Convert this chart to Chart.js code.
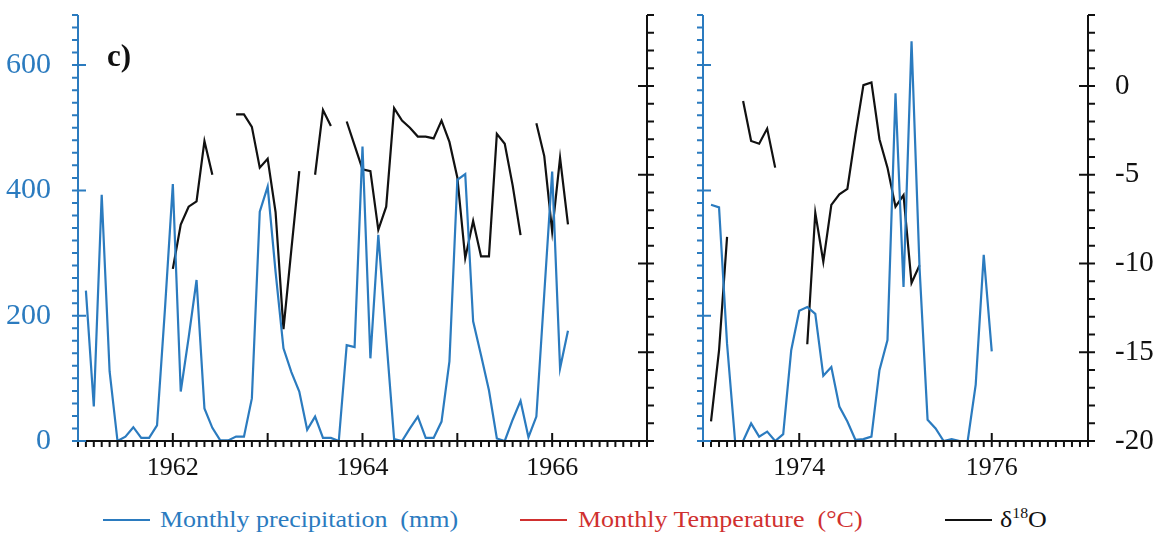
<!DOCTYPE html>
<html>
<head>
<meta charset="utf-8">
<script src="https://cdn.jsdelivr.net/npm/chart.js@4/dist/chart.umd.min.js"></script>
<style>
  html, body { margin: 0; padding: 0; background: #fff; }
  body { width: 1160px; height: 533px; position: relative; overflow: hidden;
         font-family: "Liberation Serif", "Times New Roman", serif; }
  canvas { position: absolute; top: 0; }
  #panelEarly { left: 0; }
  #panelLate { left: 660px; }
  .tag { position: absolute; left: 107px; top: 38px; font: bold 31px "Liberation Serif", serif; color: #111; }
  .key { position: absolute; top: 519px; height: 2px; width: 47px; }
  .txt { position: absolute; top: 506px; font-size: 23px; line-height: 28px; white-space: pre;
         transform: scaleX(1.13); transform-origin: left center; }
  .txt sup { font-size: 14px; vertical-align: 9px; line-height: 0; }
</style>
</head>
<body>
<canvas id="panelEarly" width="700" height="495"></canvas>
<canvas id="panelLate" width="500" height="495"></canvas>
<div class="tag">c)</div>
<div id="legend"></div>
<script>
// Series names and colours
const seriesNames = ['Monthly precipitation  (mm)', 'Monthly Temperature  (°C)', 'δ18O'];
const seriesColors = ['#2b7bbf', '#d0302f', '#111111'];

// Monthly precipitation (mm), Jan 1961 onwards (value n sits at 1961 + n/12)
const precipEarly = [
  240, 55, 393, 111, 0, 7, 22, 5, 5, 25, 210, 410,
  79, 165, 257, 52, 21, 1, 1, 7, 7, 68, 366, 406,
  270, 148, 110, 79, 18, 39, 5, 5, 0, 153, 150, 470,
  132, 329, 165, 3, 0, 20, 39, 5, 5, 31, 127, 417,
  426, 191, 137, 81, 4, 0, 34, 64, 6, 39, 235, 430,
  116, 176
];

// Monthly δ18O (‰), same months; null = no sample
const isoEarly = [
  null, null, null, null, null, null, null, null, null, null, null, -10.3,
  -7.8, -6.8, -6.5, -3.1, -5.0, null, null, -1.6, -1.6, -2.3, -4.6, -4.1,
  -7.1, -13.7, -9.2, -4.8, null, -5.0, -1.35, -2.25, null, -2.0, -3.35, -4.7,
  -4.8, -8.1, -6.8, -1.25, -1.95, -2.35, -2.85, -2.85, -2.95, -1.95, -3.15, -5.15,
  -9.7, -7.6, -9.6, -9.6, -2.7, -3.25, -5.6, -8.4, null, -2.1, -3.95, -8.2,
  -4.05, -7.8
];

// Monthly precipitation (mm), Jan 1973 onwards
const precipLate = [
  377, 373, 155, 0, 0, 28, 7, 15, 0, 11, 145, 208,
  214, 203, 104, 118, 55, 31, 2, 3, 7, 113, 161, 555,
  246, 638, 276, 34, 20, 0, 3, 0, 0, 90, 297, 143
];

// Monthly δ18O (‰), Jan 1973 onwards
const isoLate = [
  -18.9, -14.9, -8.5, null, -0.85, -3.1, -3.25, -2.4, -4.6, null, null, null,
  -14.55, -7.15, -9.9, -6.7, -6.1, -5.8, -2.75, 0.05, 0.2, -3.0, -4.6, -6.8,
  -6.15, -11.1, -10.1
];

// Axis ranges and tick labels
const precipRange = [0, 680];
const isoRange = [-20, 4];
const precipTickStep = 200;
const isoTickStep = 5;
const yearsEarly = [1961, 1967];
const yearsLate = [1973, 1977];
const labelledYears = [1962, 1964, 1966, 1974, 1976];

const serif = '"Liberation Serif", "Times New Roman", serif';

function toPoints(startYear, values) {
  return values.map((v, i) => ({ x: startYear + (i + 1) / 12, y: v }));
}

// Draws axis lines with separate major and minor tick marks
const axisTicks = {
  id: 'axisTicks',
  afterDatasetsDraw(chart, args, opts) {
    const ctx = chart.ctx;
    const a = chart.chartArea;
    ctx.save();
    ctx.lineWidth = 2;
    for (const ax of opts.axes) {
      const s = chart.scales[ax.id];
      ctx.strokeStyle = ax.color;
      ctx.beginPath();
      const horiz = s.isHorizontal();
      const edge = horiz ? a.bottom : (ax.side === 'left' ? a.left : a.right);
      if (horiz) { ctx.moveTo(a.left, edge); ctx.lineTo(a.right, edge); }
      else { ctx.moveTo(edge, a.top); ctx.lineTo(edge, a.bottom); }
      const marks = [[ax.minor, ax.minorSpan], [ax.major, ax.majorSpan]];
      for (const [step, span] of marks) {
        const n = Math.floor((s.max - s.min) / step + 1e-6);
        for (let i = 0; i <= n; i++) {
          const p = s.getPixelForValue(s.min + i * step);
          if (horiz) { ctx.moveTo(p, edge + span[0]); ctx.lineTo(p, edge + span[1]); }
          else { ctx.moveTo(edge + span[0], p); ctx.lineTo(edge + span[1], p); }
        }
      }
      ctx.stroke();
    }
    ctx.restore();
  }
};

// Keep the plot area fixed: no extra room for half-labels at the ends
function fixBox(size) {
  return s => {
    if (s.isHorizontal()) s.height = size; else s.width = size;
    s.paddingTop = 0; s.paddingBottom = 0; s.paddingLeft = 0; s.paddingRight = 0;
  };
}

function makePanel(id, startYear, precip, iso, years, leftW, rightW, leftLabels, rightLabels) {
  return new Chart(document.getElementById(id), {
    type: 'line',
    data: {
      datasets: [
        { label: seriesNames[0], data: toPoints(startYear, precip), yAxisID: 'yP',
          borderColor: seriesColors[0], borderWidth: 2.2, pointRadius: 0, tension: 0, spanGaps: false },
        { label: seriesNames[2], data: toPoints(startYear, iso), yAxisID: 'yD',
          borderColor: seriesColors[2], borderWidth: 2.2, pointRadius: 0, tension: 0, spanGaps: false }
      ]
    },
    options: {
      responsive: false,
      animation: false,
      layout: { padding: { top: 15, left: 0, right: 0, bottom: 0 } },
      plugins: {
        legend: { display: false },
        tooltip: { enabled: false },
        axisTicks: {
          axes: [
            { id: 'x', color: '#111', minor: 1 / 12, major: 1, minorSpan: [0, 6], majorSpan: [-8, 6] },
            { id: 'yP', side: 'left', color: seriesColors[0], minor: 20, major: 200, minorSpan: [-6, 0], majorSpan: [-6, 8] },
            { id: 'yD', side: 'right', color: '#111', minor: 1, major: 5, minorSpan: [0, 7], majorSpan: [-9, 7] }
          ]
        }
      },
      scales: {
        x: {
          type: 'linear', min: years[0], max: years[1],
          grid: { display: false, drawTicks: false }, border: { display: false },
          ticks: {
            stepSize: 1, autoSkip: false, maxRotation: 0, padding: 12, color: '#111',
            font: { family: serif, size: 26 },
            callback: v => labelledYears.includes(v) ? String(v) : ''
          },
          afterFit: fixBox(54)
        },
        yP: {
          position: 'left', min: precipRange[0], max: precipRange[1],
          grid: { display: false, drawTicks: false }, border: { display: false },
          ticks: {
            display: leftLabels, stepSize: precipTickStep, padding: 27, color: seriesColors[0],
            font: { family: serif, size: 30 },
            callback: v => (v % precipTickStep === 0 ? String(v) : '')
          },
          afterFit: fixBox(leftW)
        },
        yD: {
          position: 'right', min: isoRange[0], max: isoRange[1],
          grid: { display: false, drawTicks: false }, border: { display: false },
          ticks: {
            display: rightLabels, stepSize: isoTickStep, padding: 27, color: '#111',
            font: { family: serif, size: 29 },
            callback: v => (v <= 0 ? String(v) : '')
          },
          afterFit: fixBox(rightW)
        }
      }
    },
    plugins: [axisTicks]
  });
}

makePanel('panelEarly', yearsEarly[0], precipEarly, isoEarly, yearsEarly, 78, 53, true, false);
makePanel('panelLate', yearsLate[0], precipLate, isoLate, yearsLate, 43, 72, false, true);

// Legend
const keyPos = [[103, 160], [520, 578], [945, 1000]];
const legend = document.getElementById('legend');
seriesNames.forEach((name, i) => {
  const key = document.createElement('div');
  key.className = 'key';
  key.style.left = keyPos[i][0] + 'px';
  key.style.background = seriesColors[i];
  legend.appendChild(key);
  const txt = document.createElement('div');
  txt.className = 'txt';
  txt.style.left = keyPos[i][1] + 'px';
  txt.style.color = seriesColors[i];
  if (name === 'δ18O') { txt.innerHTML = 'δ<sup>18</sup>O'; } else { txt.textContent = name; }
  legend.appendChild(txt);
});
</script>
</body>
</html>
